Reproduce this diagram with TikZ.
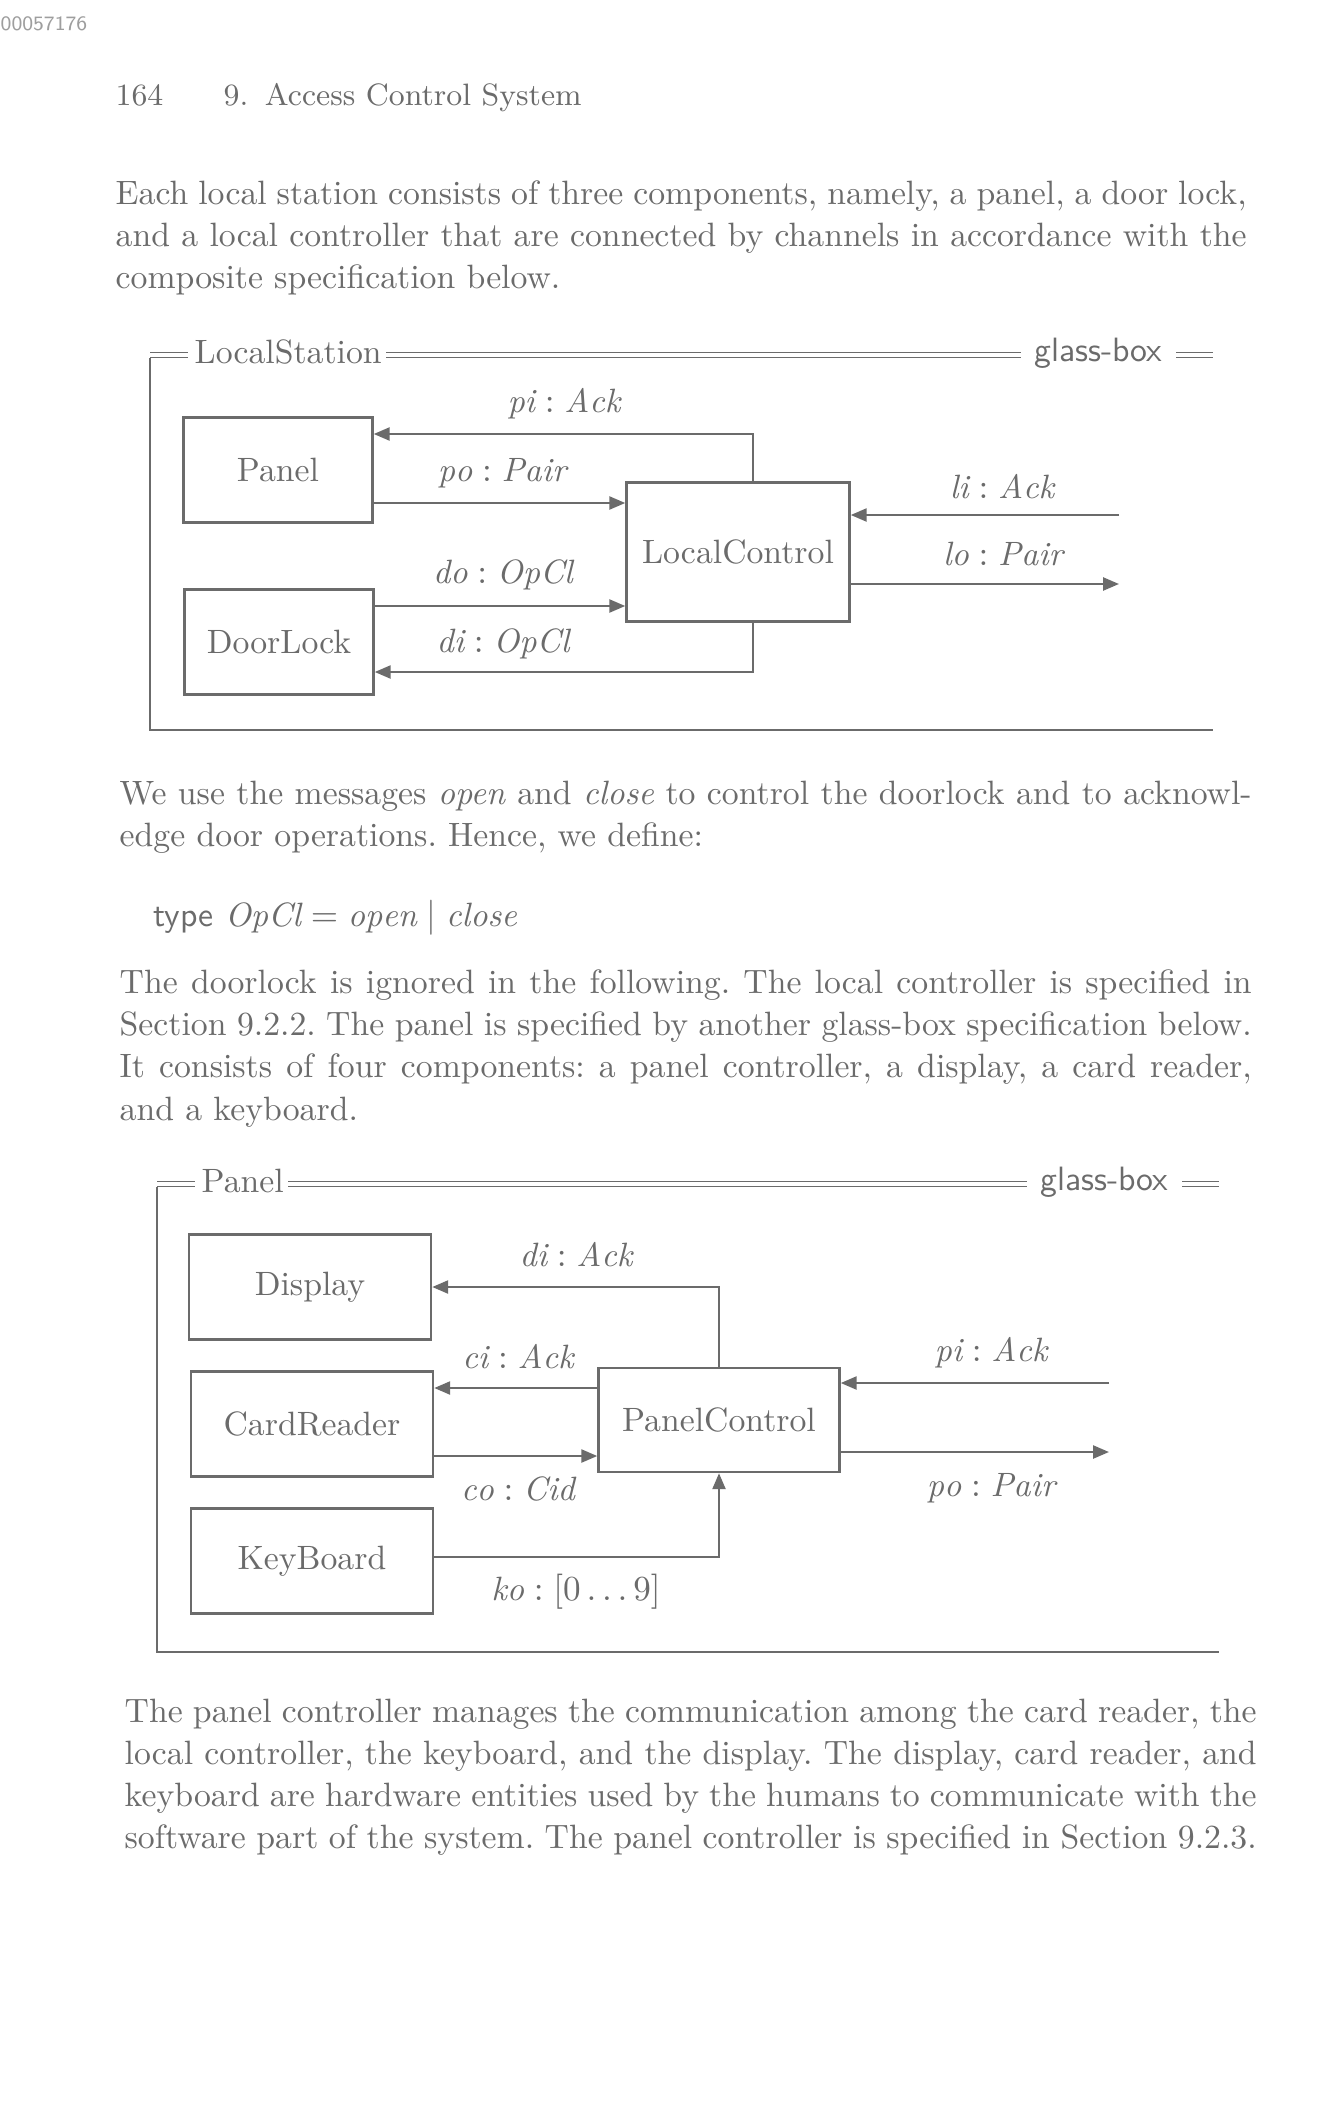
\documentclass[tikz,border=0pt]{standalone}
\usepackage{amsmath, amssymb}
\usepackage{fontspec}
\usepackage{tikz}
\usetikzlibrary{arrows.meta, positioning, calc}
\definecolor{inkgray}{gray}{0.42}
\definecolor{scangray}{gray}{0.62}
\frenchspacing

\begin{document}
\begin{tikzpicture}[x=0.1mm, y=-0.1mm,
    every node/.style={text=inkgray},
    bodyfont/.style={font=\fontsize{9.6}{12}\selectfont},
    comp/.style={draw=inkgray, line width=0.7pt, minimum width=18.9mm, minimum height=10.5mm, inner sep=0pt, bodyfont},
    chan/.style={draw=inkgray, line width=0.7pt, -{Triangle[length=1.6mm, width=1.3mm]}},
    lbl/.style={bodyfont},
    prose/.style={anchor=north west, inner sep=0pt, align=justify, bodyfont},
    schframe/.style={draw=inkgray, line width=0.5pt},
    dbl/.style={draw=inkgray, double, double distance=0.45mm, line width=0.3pt},
    schtitle/.style={inner sep=0.4mm, bodyfont}]
    \fill[white] (0,0) rectangle (1337,2120);
    \useasboundingbox (0,0) rectangle (1337,2120);

    % Kopf der Seite
    \node[anchor=west, inner sep=0pt, text=scangray, font=\sffamily\fontsize{5.8}{7}\selectfont] (scanid) at (0,24) {00057176};
    \node[anchor=base west, inner sep=0pt, font=\fontsize{8.8}{11}\selectfont] (pageno) at (115,106) {164};
    \node[anchor=base west, inner sep=0pt, font=\fontsize{8.8}{11}\selectfont] (runhead) at (223,106) {9.\hspace{4.7pt}Access Control System};

    \node[prose, text width=113.1mm] (para1) at (115,180) {Each local station consists of three components, namely, a panel, a door lock,\linebreak and a local controller that are connected by channels in accordance with the\linebreak composite specification below.};

    % Schema LocalStation
    \node[schtitle, anchor=base west] (lstitle) at (190,363) {LocalStation};
    \node[schtitle, anchor=base east, font=\sffamily\fontsize{9.6}{12}\selectfont] (lsglass) at (1167,361) {glass-box};
    \draw[dbl] (150,355) -- ([xshift=-0.2mm]lstitle.west |- 0,355);
    \draw[dbl] (lstitle.east |- 0,355) -- ([xshift=-0.9mm]lsglass.west |- 0,355);
    \draw[dbl] ([xshift=0.9mm]lsglass.east |- 0,355) -- (1213,355);
    \draw[schframe] (150,358) -- (150,730) -- (1213,730);

    \node[comp] (panel) at (278,470) {Panel};
    \node[comp] (doorlock) at (279,642) {DoorLock};
    \node[comp, minimum width=22.3mm, minimum height=13.9mm] (localctl) at (738,552) {LocalControl};
    \coordinate (liend) at (1119,515);
    \coordinate (loend) at (1119,584);

    \draw[chan] (localctl.north -| 753,0) |- (panel.east |- 0,434);
    \draw[chan] (panel.east |- 0,503) -- (localctl.west |- 0,503);
    \draw[chan] (doorlock.east |- 0,606) -- (localctl.west |- 0,606);
    \draw[chan] (localctl.south -| 753,0) |- (doorlock.east |- 0,672);
    \draw[chan] (liend) -- (localctl.east |- liend);
    \draw[chan] (localctl.east |- loend) -- (loend);

    \node[lbl] (pilbl) at (564,404) {$\mathit{pi} : \mathit{Ack}$};
    \node[lbl] (polbl) at (502,473) {$\mathit{po} : \mathit{Pair}$};
    \node[lbl] (dolbl) at (503,575) {$\mathit{do} : \mathit{OpCl}$};
    \node[lbl] (dilbl) at (503,644) {$\mathit{di} : \mathit{OpCl}$};
    \node[lbl] (lilbl) at (1002,487) {$\mathit{li} : \mathit{Ack}$};
    \node[lbl] (lolbl) at (1003,554) {$\mathit{lo} : \mathit{Pair}$};

    \node[prose, text width=113.2mm] (para2) at (119,780) {We use the messages \emph{open} and \emph{close} to control the doorlock and to acknowl-\linebreak edge door operations. Hence, we define:};

    \node[anchor=base west, inner sep=0pt, bodyfont] (typedef) at (153,926) {\textsf{type} $\mathit{OpCl} = \mathit{open} \mid \mathit{close}$};

    \node[prose, text width=113.2mm] (para3) at (119,969) {The doorlock is ignored in the following. The local controller is specified in\linebreak Section 9.2.2. The panel is specified by another glass-box specification below.\linebreak It consists of four components: a panel controller, a display, a card reader,\linebreak and a keyboard.};

    % Schema Panel
    \node[schtitle, anchor=base west] (ptitle) at (197,1192) {Panel};
    \node[schtitle, anchor=base east, font=\sffamily\fontsize{9.6}{12}\selectfont] (pglass) at (1173,1190) {glass-box};
    \draw[dbl] (157,1184) -- ([xshift=-0.2mm]ptitle.west |- 0,1184);
    \draw[dbl] (ptitle.east |- 0,1184) -- ([xshift=-0.9mm]pglass.west |- 0,1184);
    \draw[dbl] ([xshift=0.9mm]pglass.east |- 0,1184) -- (1219,1184);
    \draw[schframe] (157,1187) -- (157,1652) -- (1219,1652);

    \node[comp, minimum width=24.2mm] (display) at (310,1287) {Display};
    \node[comp, minimum width=24.2mm] (cardreader) at (312,1424) {CardReader};
    \node[comp, minimum width=24.2mm] (keyboard) at (312,1561) {KeyBoard};
    \node[comp, minimum width=24.1mm, minimum height=10.4mm] (panelctl) at (719,1420) {PanelControl};
    \coordinate (piend) at (1109,1383);
    \coordinate (poend) at (1109,1452);

    \draw[chan] (panelctl.north) |- (display.east);
    \draw[chan] (panelctl.west |- 0,1388) -- (cardreader.east |- 0,1388);
    \draw[chan] (cardreader.east |- 0,1456) -- (panelctl.west |- 0,1456);
    \draw[chan] (keyboard.east |- 0,1557) -| (panelctl.south);
    \draw[chan] (piend) -- (panelctl.east |- piend);
    \draw[chan] (panelctl.east |- poend) -- (poend);

    \node[lbl] (dilbl2) at (576,1255) {$\mathit{di} : \mathit{Ack}$};
    \node[lbl] (cilbl) at (518,1357) {$\mathit{ci} : \mathit{Ack}$};
    \node[lbl] (colbl) at (518,1489) {$\mathit{co} : \mathit{Cid}$};
    \node[lbl] (kolbl) at (576,1592) {$\mathit{ko} : [0 \ldots 9]$};
    \node[lbl] (pilbl2) at (991,1353) {$\mathit{pi} : \mathit{Ack}$};
    \node[lbl] (polbl2) at (991,1488) {$\mathit{po} : \mathit{Pair}$};

    \node[prose, text width=113.2mm] (para4) at (124,1698) {The panel controller manages the communication among the card reader, the\linebreak local controller, the keyboard, and the display. The display, card reader, and\linebreak keyboard are hardware entities used by the humans to communicate with the\linebreak software part of the system. The panel controller is specified in Section 9.2.3.};
\end{tikzpicture}
\end{document}
